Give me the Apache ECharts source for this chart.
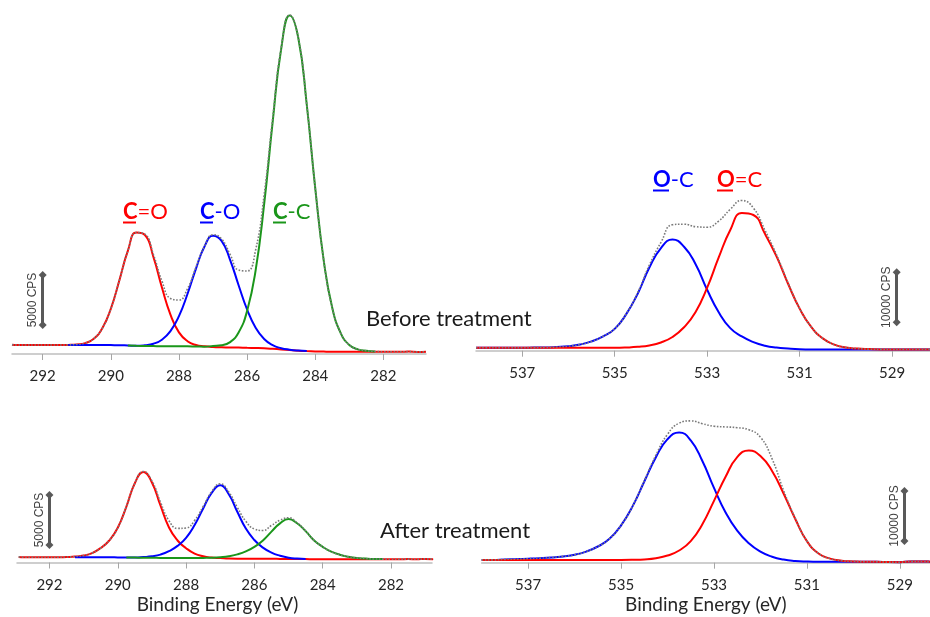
<!DOCTYPE html>
<html>
<head>
<meta charset="utf-8">
<title>XPS C1s / O1s</title>
<script src="https://cdn.jsdelivr.net/npm/echarts@6/dist/echarts.min.js"></script>
<style>
  html, body { margin: 0; padding: 0; background: #fff; }
  #main { width: 930px; height: 617px; }
</style>
</head>
<body>
<div id="main"></div>
<script>
// binding energy grids (eV)
var energyC = [292.9, 292.75, 292.5, 292.25, 292, 291.75, 291.5, 291.25, 291, 290.75, 290.5, 290.25, 290, 289.75, 289.5, 289.25, 289, 288.75, 288.5, 288.25, 288, 287.75, 287.5, 287.25, 287, 286.75, 286.5, 286.25, 286, 285.75, 285.5, 285.25, 285, 284.75, 284.5, 284.25, 284, 283.75, 283.5, 283.25, 283, 282.75, 282.5, 282.25, 282, 281.75, 281.5, 281.25, 281, 280.75];
var energyO = [538, 537.75, 537.5, 537.25, 537, 536.75, 536.5, 536.25, 536, 535.75, 535.5, 535.25, 535, 534.75, 534.5, 534.25, 534, 533.75, 533.5, 533.25, 533, 532.75, 532.5, 532.25, 532, 531.75, 531.5, 531.25, 531, 530.75, 530.5, 530.25, 530, 529.75, 529.5, 529.25, 529, 528.75, 528.5, 528.25, 528];

// tick labels
var ticksC = [282, 284, 286, 288, 290, 292];
var ticksO = [529, 531, 533, 535, 537];

// C1s before treatment (CPS)
var cBeforeEnv = [930, 900, 900, 900, 900, 900, 900, 910, 950, 1090, 1530, 2570, 4520, 7350, 10310, 12140, 11980, 9940, 7300, 5550, 5400, 6510, 8690, 10790, 11920, 11510, 9960, 8390, 8300, 10400, 15910, 23560, 30630, 33900, 31660, 24950, 16570, 9320, 4590, 2070, 900, 460, 330, 260, 230, 230, 220, 240, 210, 230];
var cBeforeCdO = [930, 900, 900, 900, 900, 900, 900, 910, 950, 1090, 1530, 2570, 4520, 7350, 10310, 12140, 11900, 9700, 6650, 3940, 2160, 1280, 900, 770, 700, 670, 650, 640, 620, 600, 570, 520, 460, 390, 330, 290, 260, 240, 230, 230, 230, 230, 230, 230, 230, 230, 220, 240, 210, 230];
var cBeforeCO = [null, null, null, null, null, null, null, 900, 900, 900, 900, 900, 890, 880, 850, 820, 880, 1030, 1430, 2290, 3790, 6000, 8540, 10750, 11820, 11310, 9420, 6880, 4450, 2630, 1500, 880, 580, 430, 340, 290, null, null, null, null, null, null, null, null, null, null, null, null, null, null];
var cBeforeCC = [null, null, null, null, null, null, null, null, null, null, null, null, null, null, 850, 820, 800, 790, 780, 780, 770, 770, 750, 730, 800, 870, 1190, 2150, 4310, 8370, 14980, 23200, 30510, 33860, 31650, 24950, 16570, 9320, 4590, 2070, 900, 460, 330, 260, null, null, null, null, null, null];

// C1s after treatment (CPS)
var cAfterEnv = [560, 530, 520, 520, 520, 520, 550, 590, 690, 940, 1450, 2200, 3470, 5570, 7930, 9100, 8150, 6040, 4180, 3410, 3450, 4200, 5600, 7090, 7870, 7050, 5510, 4120, 3350, 3200, 3710, 4230, 4480, 3970, 3160, 2210, 1570, 1080, 780, 580, 450, 390, 350, 340, 330, 330, 340, 320, 360, 330];
var cAfterCdO = [560, 530, 520, 520, 520, 520, 550, 590, 690, 940, 1450, 2200, 3470, 5570, 7930, 9040, 8000, 5700, 3500, 2200, 1430, 890, 620, 490, 440, 390, 380, 380, 380, 370, 370, 360, 350, 340, 340, 330, 330, 330, 330, 330, 330, 330, 330, 330, 330, 330, 340, 320, 360, 330];
var cAfterCO = [null, null, null, null, null, null, null, 520, 520, 520, 520, 520, 510, 500, 490, 540, 620, 790, 1130, 1660, 2470, 3750, 5400, 6960, 7720, 6820, 5080, 3390, 2250, 1490, 990, 680, 480, 390, 360, null, null, null, null, null, null, null, null, null, null, null, null, null, null, null];
var cAfterCC = [null, null, null, null, null, null, null, null, null, null, null, null, null, 500, 490, 480, 470, 460, 450, 450, 450, 440, 460, 480, 530, 620, 810, 1110, 1560, 2210, 3090, 3910, 4350, 3920, 3140, 2210, 1570, 1080, 780, 580, 450, 390, 350, 340, null, null, null, null, null, null];

// O1s before treatment (CPS)
var oBeforeEnv = [600, 600, 600, 600, 600, 620, 640, 740, 900, 1240, 1860, 2870, 4390, 7380, 11650, 17130, 21650, 25200, 25300, 24800, 24700, 25930, 28280, 30050, 28540, 24080, 19200, 13550, 8460, 4760, 2460, 1220, 640, 420, 320, 260, 260, 260, 260, 260, 260];
var oBeforeOC = [600, 600, 600, 600, 600, 620, 640, 740, 900, 1240, 1860, 2870, 4370, 7320, 11450, 16630, 20530, 22240, 20800, 17300, 12180, 7690, 4520, 2850, 1720, 1000, 620, 430, 300, 260, 260, 260, 260, 260, 260, 260, 260, 260, 260, 260, 260];
var oBeforeOdC = [600, 600, 600, 600, 600, 600, 600, 600, 600, 600, 600, 590, 590, 640, 770, 1050, 1650, 2740, 4680, 7720, 12600, 18650, 24140, 27550, 27140, 23380, 18860, 13390, 8420, 4760, 2460, 1220, 640, 420, 320, 260, 260, 260, 260, 260, 260];

// O1s after treatment (CPS)
var oAfterEnv = [560, 560, 660, 720, 800, 900, 1040, 1260, 1580, 2220, 3240, 4770, 7470, 11360, 16380, 21500, 25670, 27900, 28360, 27800, 27300, 27160, 27000, 26600, 25100, 20800, 14400, 8870, 4340, 1840, 820, 400, 260, 200, 200, 120, 100, 260, 240, 200, 200];
var oAfterOC = [560, 560, 660, 720, 800, 900, 1040, 1260, 1580, 2220, 3240, 4770, 7470, 11320, 16240, 21100, 24710, 26040, 24470, 20350, 14970, 10060, 6410, 3880, 2210, 1190, 620, 350, 240, 200, 200, 200, 200, 200, 200, 120, 100, 260, 240, 200, 200];
var oAfterOdC = [560, 560, 560, 560, 560, 560, 560, 560, 560, 560, 560, 550, 550, 580, 660, 900, 1430, 2440, 4310, 7690, 12370, 17180, 21130, 22440, 21350, 18350, 13800, 8750, 4320, 1840, 820, 400, 260, 200, 200, 120, 100, 260, 240, 200, 200];

var RED = '#ff0000', BLUE = '#0000ff', GREEN = '#1a961a', GREY = '#7a7a7a', BAR = '#595959';
var FONT = 'Lato';

function pairs(xs, ys) {
	return xs.map(function(x, i) {
		return [x, ys[i]];
	});
}

function comp(name, idx, xs, ys, color) {
	return {
		name: name,
		type: 'line',
		xAxisIndex: idx,
		yAxisIndex: idx,
		data: pairs(xs, ys),
		smooth: 0.5,
		showSymbol: false,
		connectNulls: false,
		lineStyle: { color: color, width: 2 },
		z: 2
	};
}

// envelope (dotted) also carries the scale bar
function envelope(idx, xs, ys, bar, barText) {
	return {
		name: 'data',
		type: 'line',
		xAxisIndex: idx,
		yAxisIndex: idx,
		data: pairs(xs, ys),
		smooth: 0.5,
		showSymbol: false,
		lineStyle: { color: GREY, width: 1.6, type: 'dotted' },
		z: 3,
		markLine: {
			silent: true,
			animation: false,
			symbol: ['diamond', 'diamond'],
			symbolSize: 8,
			lineStyle: { color: BAR, width: 3, type: 'solid' },
			label: {
				show: true,
				position: 'insideMiddleTop',
				formatter: barText,
				distance: 4,
				fontFamily: 'Liberation Sans',
				fontSize: 12,
				color: '#404040'
			},
			data: [[{ coord: bar[0] }, { coord: bar[1] }]]
		}
	};
}

function xAxisFor(idx, min, max, ticks, withName) {
	return {
		type: 'value',
		gridIndex: idx,
		min: min,
		max: max,
		inverse: true,
		name: withName ? 'Binding Energy (eV)' : '',
		nameLocation: 'middle',
		nameGap: 33,
		nameTextStyle: { fontFamily: FONT, fontSize: 19, color: '#262626', padding: [0, idx == 2 ? 14 : 0, 0, 0] },
		axisLine: { show: true, onZero: false, lineStyle: { color: '#bfbfbf', width: 1.5 } },
		axisTick: { show: true, length: 6, customValues: ticks, lineStyle: { color: '#a6a6a6' } },
		axisLabel: { customValues: ticks, margin: 15, fontFamily: FONT, fontSize: 15, color: '#262626' },
		splitLine: { show: false }
	};
}

function yAxisFor(idx, max) {
	return { type: 'value', gridIndex: idx, min: 0, max: max, show: false, splitLine: { show: false } };
}

// label like "C=O" with the first letter bold + underlined
function peakLabel(x, y, first, rest, color) {
	return {
		type: 'group',
		children: [{
			type: 'text',
			x: x, y: y,
			style: {
				text: '{b|' + first + '}{n|' + rest + '}',
				verticalAlign: 'middle',
				rich: {
					b: { fontFamily: FONT, fontSize: 22, fontWeight: 'bold', fill: color },
					n: { fontFamily: FONT, fontSize: 22, fill: color }
				}
			}
		}, {
			type: 'rect',
			shape: { x: x, y: y + 9.5, width: first == 'O' ? 16 : 13, height: 2 },
			style: { fill: color }
		}]
	};
}

var chart = echarts.init(document.getElementById('main'));

var option = {
	animation: false,
	textStyle: { fontFamily: FONT },
	grid: [
		{ left: 12, right: 504, top: 11, bottom: 263, outerBoundsMode: 'none' },
		{ left: 476, right: 0, top: 150.7, bottom: 266.3, outerBoundsMode: 'none' },
		{ left: 17, right: 498, top: 432.5, bottom: 54.5, outerBoundsMode: 'none' },
		{ left: 481.7, right: 0, top: 392.7, bottom: 54.3, outerBoundsMode: 'none' }
	],
	xAxis: [
		xAxisFor(0, 280.75, 292.9, ticksC, false),
		xAxisFor(1, 528.18, 538, ticksO, false),
		xAxisFor(2, 280.8, 292.95, ticksC, true),
		xAxisFor(3, 528.35, 538, ticksO, true)
	],
	yAxis: [
		yAxisFor(0, 34300),
		yAxisFor(1, 40000),
		yAxisFor(2, 13000),
		yAxisFor(3, 34000)
	],
	series: [
		comp('C=O', 0, energyC, cBeforeCdO, RED),
		comp('C-O', 0, energyC, cBeforeCO, BLUE),
		comp('C-C', 0, energyC, cBeforeCC, GREEN),
		envelope(0, energyC, cBeforeEnv, [[292, 2900], [292, 7900]], '5000 CPS'),

		comp('O-C', 1, energyO, oBeforeOC, BLUE),
		comp('O=C', 1, energyO, oBeforeOdC, RED),
		envelope(1, energyO, oBeforeEnv, [[528.9, 5700], [528.9, 15700]], '10000 CPS'),

		comp('C=O', 2, energyC, cAfterCdO, RED),
		comp('C-O', 2, energyC, cAfterCO, BLUE),
		comp('C-C', 2, energyC, cAfterCC, GREEN),
		envelope(2, energyC, cAfterEnv, [[292, 1750], [292, 6750]], '5000 CPS'),

		comp('O-C', 3, energyO, oAfterOC, BLUE),
		comp('O=C', 3, energyO, oAfterOdC, RED),
		envelope(3, energyO, oAfterEnv, [[528.9, 4340], [528.9, 14340]], '10000 CPS')
	],
	graphic: [
		peakLabel(123, 212, 'C', '=O', RED),
		peakLabel(200, 212, 'C', '-O', BLUE),
		peakLabel(273, 212, 'C', '-C', GREEN),
		peakLabel(653, 180, 'O', '-C', BLUE),
		peakLabel(717, 180, 'O', '=C', RED),
		{
			type: 'text', x: 366, y: 319,
			style: { text: 'Before treatment', fontFamily: FONT, fontSize: 22, fill: '#1a1a1a', verticalAlign: 'middle' }
		},
		{
			type: 'text', x: 380, y: 531,
			style: { text: 'After treatment', fontFamily: FONT, fontSize: 22, fill: '#1a1a1a', verticalAlign: 'middle' }
		}
	]
};

chart.setOption(option);
</script>
</body>
</html>
